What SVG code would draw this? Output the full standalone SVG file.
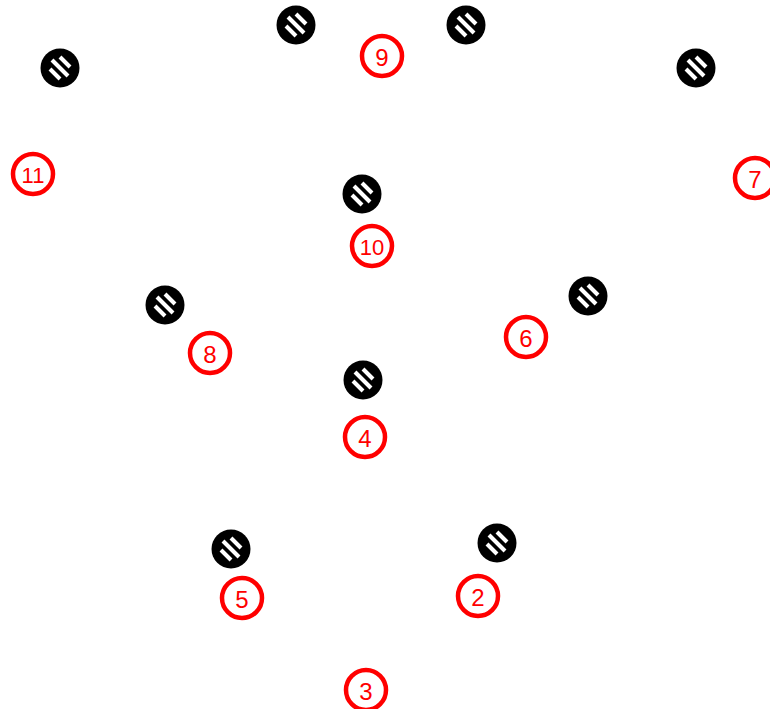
<svg xmlns="http://www.w3.org/2000/svg" width="770" height="709" viewBox="0 0 770 709">
<style>
.lbl circle{fill:#fff;stroke:#f00;stroke-width:4.5}
.lbl text{fill:#f00;font-family:"Liberation Sans",Arial,sans-serif;font-size:24px;text-anchor:middle;dominant-baseline:central}
.lbl text.two{font-size:22px}
</style>
<defs>
<g id="bolt">
<circle r="19.5" fill="#000"/>
<g stroke="#fff" stroke-width="4" stroke-linecap="butt">
<line x1="-8" y1="-8" x2="8" y2="8"/>
<line x1="0" y1="-11" x2="10" y2="-1"/>
<line x1="-10" y1="1" x2="0" y2="11"/>
</g>
</g>
</defs>
<rect width="770" height="709" fill="#fff"/>
<g id="connectors"/>
<g id="b1"><use href="#bolt" x="296" y="25"/></g>
<g id="b2"><use href="#bolt" x="466" y="25"/></g>
<g id="b3"><use href="#bolt" x="60" y="68"/></g>
<g id="b4"><use href="#bolt" x="696" y="68"/></g>
<g id="b5"><use href="#bolt" x="362" y="194"/></g>
<g id="b6"><use href="#bolt" x="165" y="305"/></g>
<g id="b7"><use href="#bolt" x="588" y="296"/></g>
<g id="b8"><use href="#bolt" x="363" y="380"/></g>
<g id="b9"><use href="#bolt" x="231" y="549"/></g>
<g id="b10"><use href="#bolt" x="497" y="543"/></g>
<g id="n9" class="lbl"><circle cx="382" cy="56" r="20"/><text x="382" y="57">9</text></g>
<g id="n11" class="lbl"><circle cx="33" cy="174" r="20"/><text class="two" x="33" y="175">11</text></g>
<g id="n7" class="lbl"><circle cx="755" cy="178" r="20"/><text x="755" y="179">7</text></g>
<g id="n10" class="lbl"><circle cx="372" cy="246" r="20"/><text class="two" x="372" y="247">10</text></g>
<g id="n8" class="lbl"><circle cx="210" cy="353" r="20"/><text x="210" y="354">8</text></g>
<g id="n6" class="lbl"><circle cx="526" cy="337" r="20"/><text x="526" y="338">6</text></g>
<g id="n4" class="lbl"><circle cx="365" cy="437" r="20"/><text x="365" y="438">4</text></g>
<g id="n5" class="lbl"><circle cx="242" cy="598" r="20"/><text x="242" y="599">5</text></g>
<g id="n2" class="lbl"><circle cx="478" cy="596" r="20"/><text x="478" y="597">2</text></g>
<g id="n3" class="lbl"><circle cx="366" cy="690" r="20"/><text x="366" y="691">3</text></g>
</svg>
